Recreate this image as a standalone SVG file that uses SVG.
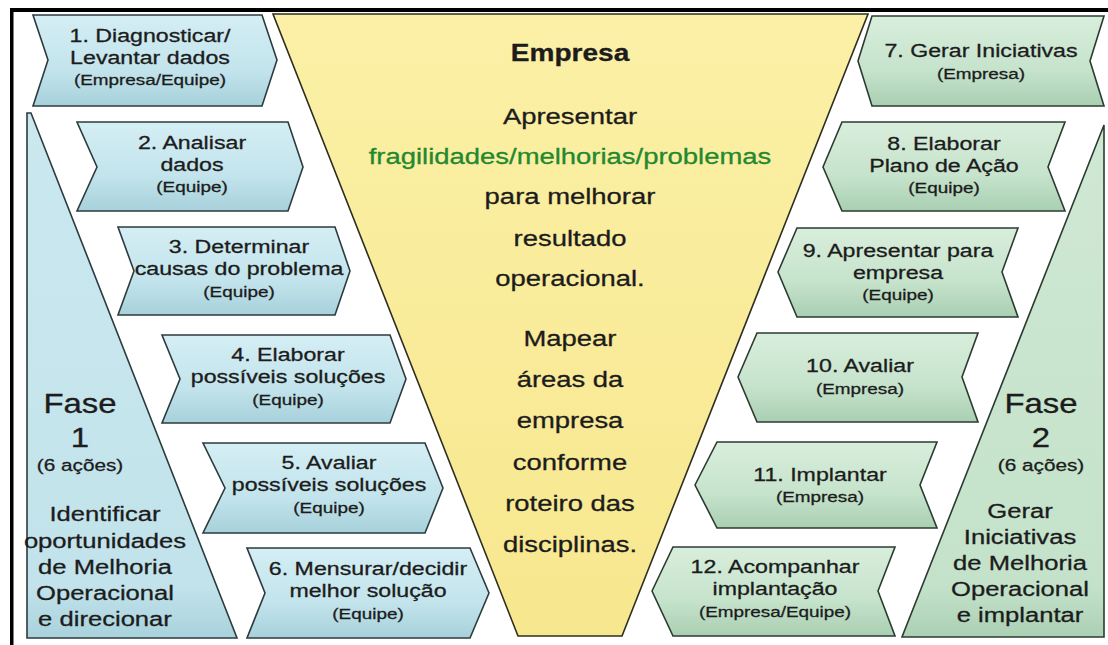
<svg xmlns="http://www.w3.org/2000/svg" width="1108" height="645" viewBox="0 0 1108 645">
<defs>
<linearGradient id="gBlue" x1="0" y1="0" x2="0" y2="1">
<stop offset="0" stop-color="#d4eef4"/>
<stop offset="0.6" stop-color="#c3e4ec"/>
<stop offset="1" stop-color="#a7d1db"/>
</linearGradient>
<linearGradient id="gGreen" x1="0" y1="0" x2="0" y2="1">
<stop offset="0" stop-color="#d8eedc"/>
<stop offset="0.6" stop-color="#c6e3cc"/>
<stop offset="1" stop-color="#a9cfb2"/>
</linearGradient>
<linearGradient id="gBlueP" x1="0" y1="0" x2="0" y2="1">
<stop offset="0" stop-color="#cbe8ef"/>
<stop offset="0.9" stop-color="#c2e3eb"/>
<stop offset="1" stop-color="#a9d2dc"/>
</linearGradient>
<linearGradient id="gGreenP" x1="0" y1="0" x2="0" y2="1">
<stop offset="0" stop-color="#cfe8d4"/>
<stop offset="0.9" stop-color="#c4e2ca"/>
<stop offset="1" stop-color="#abd0b4"/>
</linearGradient>
<linearGradient id="gYellow" x1="0" y1="0" x2="0" y2="1">
<stop offset="0" stop-color="#fbf0a6"/>
<stop offset="1" stop-color="#f7e78e"/>
</linearGradient>
<style>
.blue{fill:url(#gBlue);stroke:#2c3b3e;stroke-width:1.6;stroke-linejoin:miter}
.green{fill:url(#gGreen);stroke:#2c3b30;stroke-width:1.6;stroke-linejoin:miter}
.blueP{fill:url(#gBlueP);stroke:#2c3b3e;stroke-width:1.6}
.greenP{fill:url(#gGreenP);stroke:#2c3b30;stroke-width:1.6}
.yellow{fill:url(#gYellow);stroke:#2e2e22;stroke-width:1.6}
text{font-family:"Liberation Sans",Arial,sans-serif;fill:#1c1c1c;stroke:#1c1c1c;stroke-width:0.3;text-anchor:middle}
.t{font-size:19px}
.s{font-size:15.5px}
.f{font-size:21px}
.big{font-size:27px}
.mid{font-size:17px}
.hd{font-size:23px;font-weight:bold}
.y{font-size:22.5px}
.gr{fill:#23882f;stroke:#23882f}
</style>
</defs>
<rect x="0" y="0" width="1108" height="645" fill="#ffffff"/>

<g id="fase1">
<polygon class="blueP" points="27,113 31,113 237,638 27,638"/>
<g transform="translate(80 0) scale(1.22 1)">
<text class="big" x="0" y="413">Fase</text>
<text class="big" x="0" y="447">1</text>
<text class="mid" x="0" y="471">(6 ações)</text>
</g>
<g transform="translate(105 0) scale(1.22 1)">
<text class="f" x="0" y="521">Identificar</text>
<text class="f" x="0" y="548">oportunidades</text>
<text class="f" x="0" y="574">de Melhoria</text>
<text class="f" x="0" y="600">Operacional</text>
<text class="f" x="0" y="626">e direcionar</text>
</g>
</g>

<g id="fase2">
<polygon class="greenP" points="1104,125 1104,637 902,637"/>
<g transform="translate(1041 0) scale(1.22 1)">
<text class="big" x="0" y="413">Fase</text>
<text class="big" x="0" y="447">2</text>
<text class="mid" x="0" y="471">(6 ações)</text>
</g>
<g transform="translate(1020 0) scale(1.22 1)">
<text class="f" x="0" y="518">Gerar</text>
<text class="f" x="0" y="544">Iniciativas</text>
<text class="f" x="0" y="570">de Melhoria</text>
<text class="f" x="0" y="596">Operacional</text>
<text class="f" x="0" y="622">e implantar</text>
</g>
</g>

<g id="empresa">
<polygon class="yellow" points="273,14 868,14 622,636 518,636"/>
<g transform="translate(570 0) scale(1.22 1)">
<text class="hd" x="0" y="61">Empresa</text>
<text class="y" x="0" y="124">Apresentar</text>
<text class="y gr" x="0" y="164">fragilidades/melhorias/problemas</text>
<text class="y" x="0" y="204">para melhorar</text>
<text class="y" x="0" y="246">resultado</text>
<text class="y" x="0" y="286">operacional.</text>
<text class="y" x="0" y="346">Mapear</text>
<text class="y" x="0" y="387">áreas da</text>
<text class="y" x="0" y="428">empresa</text>
<text class="y" x="0" y="470">conforme</text>
<text class="y" x="0" y="511">roteiro das</text>
<text class="y" x="0" y="552">disciplinas.</text>
</g>
</g>

<g id="step1">
<polygon class="blue" points="33,15 262,15 277,60 262,106 33,106 48,60"/>
<g transform="translate(150 0) scale(1.22 1)">
<text class="t" x="0" y="42">1. Diagnosticar/</text>
<text class="t" x="0" y="64">Levantar dados</text>
<text class="s" x="0" y="85">(Empresa/Equipe)</text>
</g>
</g>
<g id="step2">
<polygon class="blue" points="77,122 288,122 303,167 288,211 77,211 97,167"/>
<g transform="translate(192 0) scale(1.22 1)">
<text class="t" x="0" y="149">2. Analisar</text>
<text class="t" x="0" y="171">dados</text>
<text class="s" x="0" y="192">(Equipe)</text>
</g>
</g>
<g id="step3">
<polygon class="blue" points="118,227 335,227 350,271 335,315 118,315 134,271"/>
<g transform="translate(239 0) scale(1.22 1)">
<text class="t" x="0" y="253">3. Determinar</text>
<text class="t" x="0" y="275">causas do problema</text>
<text class="s" x="0" y="297">(Equipe)</text>
</g>
</g>
<g id="step4">
<polygon class="blue" points="162,335 390,335 406,379 390,423 162,423 180,379"/>
<g transform="translate(288 0) scale(1.22 1)">
<text class="t" x="0" y="361">4. Elaborar</text>
<text class="t" x="0" y="383">possíveis soluções</text>
<text class="s" x="0" y="405">(Equipe)</text>
</g>
</g>
<g id="step5">
<polygon class="blue" points="203,443 425,443 443,488 425,533 203,533 225,488"/>
<g transform="translate(329 0) scale(1.22 1)">
<text class="t" x="0" y="469">5. Avaliar</text>
<text class="t" x="0" y="491">possíveis soluções</text>
<text class="s" x="0" y="513">(Equipe)</text>
</g>
</g>
<g id="step6">
<polygon class="blue" points="247,548 470,548 489,593 470,638 247,638 265,593"/>
<g transform="translate(368 0) scale(1.22 1)">
<text class="t" x="0" y="575">6. Mensurar/decidir</text>
<text class="t" x="0" y="597">melhor solução</text>
<text class="s" x="0" y="619">(Equipe)</text>
</g>
</g>

<g id="step7">
<polygon class="green" points="858,61 872,16 1104,16 1090,61 1104,106 872,106"/>
<g transform="translate(981 0) scale(1.22 1)">
<text class="t" x="0" y="57">7. Gerar Iniciativas</text>
<text class="s" x="0" y="79">(Empresa)</text>
</g>
</g>
<g id="step8">
<polygon class="green" points="823,167 842,122 1065,122 1048,167 1065,211 842,211"/>
<g transform="translate(944 0) scale(1.22 1)">
<text class="t" x="0" y="150">8. Elaborar</text>
<text class="t" x="0" y="172">Plano de Ação</text>
<text class="s" x="0" y="193">(Equipe)</text>
</g>
</g>
<g id="step9">
<polygon class="green" points="778,272 797,228 1018,228 1002,272 1018,317 797,317"/>
<g transform="translate(898 0) scale(1.22 1)">
<text class="t" x="0" y="257">9. Apresentar para</text>
<text class="t" x="0" y="279">empresa</text>
<text class="s" x="0" y="300">(Equipe)</text>
</g>
</g>
<g id="step10">
<polygon class="green" points="738,377 757,333 978,333 962,377 978,422 757,422"/>
<g transform="translate(860 0) scale(1.22 1)">
<text class="t" x="0" y="372">10. Avaliar</text>
<text class="s" x="0" y="394">(Empresa)</text>
</g>
</g>
<g id="step11">
<polygon class="green" points="695,485 717,442 937,442 920,485 937,528 717,528"/>
<g transform="translate(820 0) scale(1.22 1)">
<text class="t" x="0" y="481">11. Implantar</text>
<text class="s" x="0" y="502">(Empresa)</text>
</g>
</g>
<g id="step12">
<polygon class="green" points="652,591 673,547 895,547 878,591 895,636 673,636"/>
<g transform="translate(775 0) scale(1.22 1)">
<text class="t" x="0" y="573">12. Acompanhar</text>
<text class="t" x="0" y="595">implantação</text>
<text class="s" x="0" y="617">(Empresa/Equipe)</text>
</g>
</g>

<g id="frame">
<rect x="10" y="8" width="1098" height="4" fill="#000000"/>
<rect x="10" y="8" width="3.5" height="637" fill="#000000"/>
</g>
</svg>
